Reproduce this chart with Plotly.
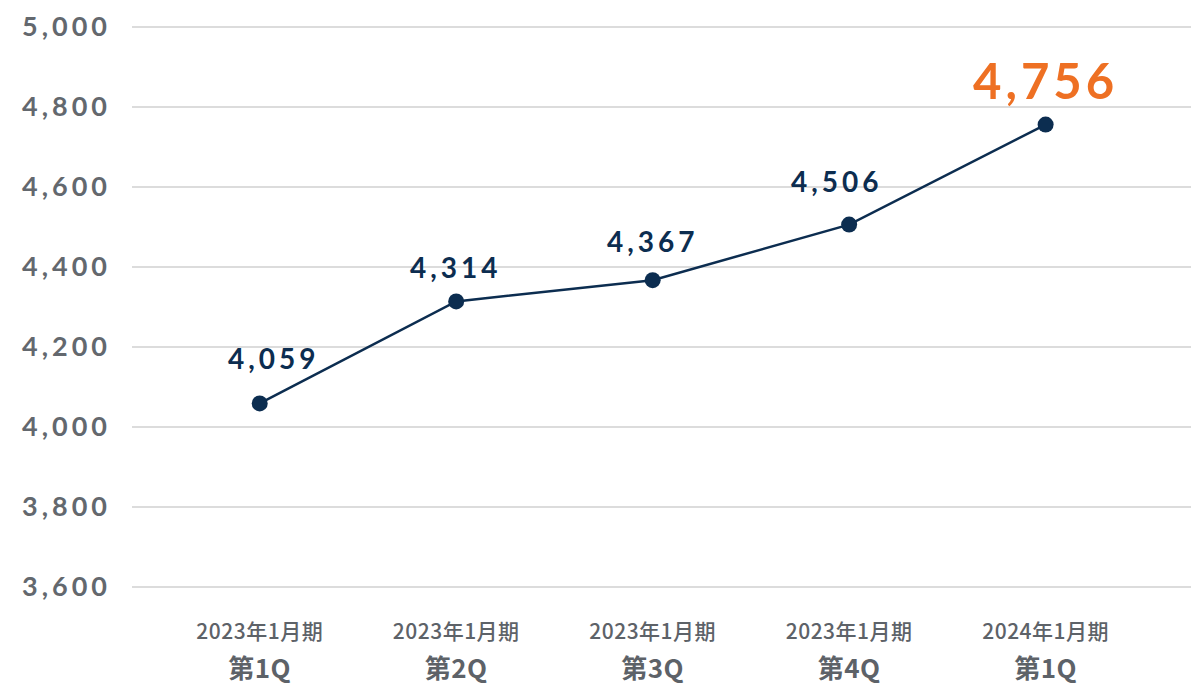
import plotly.graph_objects as go

periods = ["2023年1月期", "2023年1月期", "2023年1月期", "2023年1月期", "2024年1月期"]
quarters = ["第1Q", "第2Q", "第3Q", "第4Q", "第1Q"]
values = [4059, 4314, 4367, 4506, 4756]
y_ticks = [3600, 3800, 4000, 4200, 4400, 4600, 4800, 5000]

NAVY = "#0c2d50"
ORANGE = "#ee7023"
GREY = "#5d6268"

x_idx = list(range(len(values)))
ticktext = [
    f"<span style='font-size:21px;font-weight:500'>{p}</span><br>"
    f"<span style='font-size:26px;font-weight:700'>{q}</span>"
    for p, q in zip(periods, quarters)
]

fig = go.Figure()
fig.add_trace(go.Scatter(
    x=x_idx, y=values, mode="lines+markers",
    line=dict(color=NAVY, width=2.5),
    marker=dict(color=NAVY, size=16),
    hoverinfo="skip", showlegend=False,
))

# label offsets (pixels) relative to each point
label_dx = [14, 0, 0, -12, 0]
label_dy = [45, 34, 39, 44, 45]
for i, v in enumerate(values):
    last = i == len(values) - 1
    fig.add_annotation(
        x=x_idx[i], y=v, text=f"<b>{v:,}</b>", showarrow=False,
        xshift=label_dx[i], yshift=label_dy[i],
        font=dict(family="Lato, sans-serif", size=49 if last else 28,
                  color=ORANGE if last else NAVY),
    )

fig.update_layout(
    width=1191, height=684,
    margin=dict(l=132, r=0, t=25, b=95),
    plot_bgcolor="white", paper_bgcolor="white",
    xaxis=dict(
        range=[-0.65, 4.74], tickvals=x_idx, ticktext=ticktext,
        showgrid=False, zeroline=False, showline=False, ticks="",
        ticklabelstandoff=19, automargin=False,
        tickfont=dict(family="Noto Sans CJK JP", size=30, color=GREY),
    ),
    yaxis=dict(
        range=[3595, 5005], tickvals=y_ticks,
        ticktext=[f"{t:,}" for t in y_ticks],
        showgrid=True, gridcolor="#dcdcdc", gridwidth=1.6,
        zeroline=False, showline=False, ticks="",
        ticklabelstandoff=20, automargin=False,
        tickfont=dict(family="Lato, sans-serif", size=27, color="#63686e", weight=700),
    ),
)

css = (
    "document.body.style.margin='0';"
    "var s=document.createElement('style');"
    "s.innerHTML='body{margin:0}.ytick text{letter-spacing:4px}.annotation-text{letter-spacing:4px}.xtick text{letter-spacing:0.5px}';"
    "document.head.appendChild(s);"
)
fig.write_html("out.html", post_script=css, config={"displayModeBar": False})
